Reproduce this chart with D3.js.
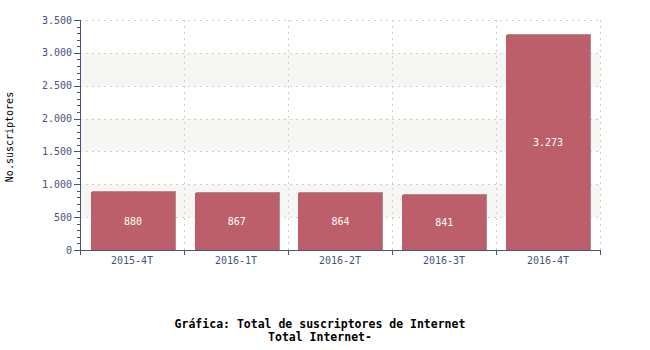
<!DOCTYPE html>
<html>
<head>
<meta charset="utf-8">
<script src="https://cdn.jsdelivr.net/npm/d3@7"></script>
<style>
  body { margin: 0; background: #fff; }
  svg { display: block; }
  text { font-family: "DejaVu Sans Mono", monospace; }
</style>
</head>
<body>
<svg id="chart" width="650" height="350"></svg>
<script>
// Data
const periods = ["2015-4T", "2016-1T", "2016-2T", "2016-3T", "2016-4T"];
const subscribers = [880, 867, 864, 841, 3273];
const yTicks = [0, 500, 1000, 1500, 2000, 2500, 3000, 3500];
const titleLines = ["Gráfica: Total de suscriptores de Internet", "Total Internet-"];
const yTitle = "No.suscriptores";

const fmt = v => d3.format(",")(v).replace(/,/g, ".");

const svg = d3.select("#chart");
const plot = {left: 80, right: 600, top: 20, bottom: 250};
const axisColor = "#445577";

const x = d3.scaleBand()
    .domain(periods)
    .range([plot.left, plot.right])
    .paddingInner(0.19)
    .paddingOuter(0.1);

const xStep = d3.scaleBand().domain(periods).range([plot.left, plot.right]);

const y = d3.scaleLinear()
    .domain([0, 3500])
    .range([plot.bottom, plot.top]);

// alternating background bands
const bands = svg.append("g");
for (let i = 0; i < yTicks.length - 1; i++) {
    if (i % 2 === 1) {
        bands.append("rect")
            .attr("x", plot.left)
            .attr("y", y(yTicks[i + 1]))
            .attr("width", plot.right - plot.left)
            .attr("height", y(yTicks[i]) - y(yTicks[i + 1]))
            .attr("fill", "#f6f6f2");
    }
}

// grid lines
const grid = svg.append("g")
    .attr("stroke", "#cfcfcf")
    .attr("stroke-dasharray", "2,4")
    .attr("shape-rendering", "crispEdges");
yTicks.filter(d => d > 0).forEach(t => {
    grid.append("line")
        .attr("x1", plot.left).attr("x2", plot.right)
        .attr("y1", Math.round(y(t)) + 0.5).attr("y2", Math.round(y(t)) + 0.5);
});
periods.forEach(p => {
    const xx = Math.round(xStep(p) + xStep.step()) + 0.5;
    grid.append("line")
        .attr("x1", xx).attr("x2", xx)
        .attr("y1", plot.top).attr("y2", plot.bottom);
});

// bars with a small shadow
const bars = svg.append("g").attr("shape-rendering", "crispEdges");
bars.selectAll("rect.shadow")
    .data(subscribers)
    .enter()
    .append("rect")
    .attr("class", "shadow")
    .attr("x", (d, i) => Math.ceil(x(periods[i])) + 1)
    .attr("y", d => Math.round(y(d)) - 1)
    .attr("width", Math.round(x.bandwidth()))
    .attr("height", d => plot.bottom - Math.round(y(d)) + 1)
    .attr("fill", "#b38a92");
bars.selectAll("rect.bar")
    .data(subscribers)
    .enter()
    .append("rect")
    .attr("class", "bar")
    .attr("x", (d, i) => Math.ceil(x(periods[i])))
    .attr("y", d => Math.round(y(d)))
    .attr("width", Math.round(x.bandwidth()))
    .attr("height", d => plot.bottom - Math.round(y(d)))
    .attr("fill", "#bd5f6a");

// value labels
svg.append("g")
    .selectAll("text")
    .data(subscribers)
    .enter()
    .append("text")
    .attr("x", (d, i) => x(periods[i]) + x.bandwidth() / 2 + 0.5)
    .attr("y", d => (y(d) + plot.bottom) / 2)
    .attr("dy", "0.35em")
    .attr("text-anchor", "middle")
    .attr("fill", "#ffffff")
    .attr("font-size", "10px")
    .text(d => fmt(d));

// y axis
const yAxis = svg.append("g").attr("shape-rendering", "crispEdges");
yAxis.append("line")
    .attr("x1", plot.left + 0.5).attr("x2", plot.left + 0.5)
    .attr("y1", plot.top).attr("y2", plot.bottom)
    .attr("stroke", axisColor);
d3.range(0, 3501, 100).forEach(v => {
    const major = v % 500 === 0;
    const yy = Math.round(y(v)) + 0.5;
    yAxis.append("line")
        .attr("x1", plot.left - (major ? 6 : 3)).attr("x2", plot.left)
        .attr("y1", yy).attr("y2", yy)
        .attr("stroke", axisColor);
});
yAxis.selectAll("text")
    .data(yTicks)
    .enter()
    .append("text")
    .attr("x", plot.left - 8)
    .attr("y", d => y(d))
    .attr("dy", "0.35em")
    .attr("text-anchor", "end")
    .attr("fill", axisColor)
    .attr("font-size", "10px")
    .text(d => fmt(d));

// x axis
const xAxis = svg.append("g").attr("shape-rendering", "crispEdges");
xAxis.append("line")
    .attr("x1", plot.left).attr("x2", plot.right + 1)
    .attr("y1", plot.bottom + 0.5).attr("y2", plot.bottom + 0.5)
    .attr("stroke", axisColor);
[plot.left].concat(periods.map(p => xStep(p) + xStep.step())).forEach(xx => {
    xAxis.append("line")
        .attr("x1", Math.round(xx) + 0.5).attr("x2", Math.round(xx) + 0.5)
        .attr("y1", plot.bottom).attr("y2", plot.bottom + 5)
        .attr("stroke", axisColor);
});
xAxis.selectAll("text")
    .data(periods)
    .enter()
    .append("text")
    .attr("x", d => xStep(d) + xStep.step() / 2)
    .attr("y", plot.bottom + 10)
    .attr("dy", "0.35em")
    .attr("text-anchor", "middle")
    .attr("fill", axisColor)
    .attr("font-size", "10px")
    .text(d => d);

// y title
svg.append("text")
    .attr("transform", `translate(13, ${(plot.top + plot.bottom) / 2 + 2}) rotate(-90)`)
    .attr("text-anchor", "middle")
    .attr("fill", "#000")
    .attr("font-size", "10px")
    .text(yTitle);

// chart title
svg.append("g")
    .selectAll("text")
    .data(titleLines)
    .enter()
    .append("text")
    .attr("x", 320)
    .attr("y", (d, i) => 328 + i * 13)
    .attr("text-anchor", "middle")
    .attr("font-weight", "bold")
    .attr("font-size", "11.5px")
    .attr("fill", "#000")
    .text(d => d);
</script>
</body>
</html>
